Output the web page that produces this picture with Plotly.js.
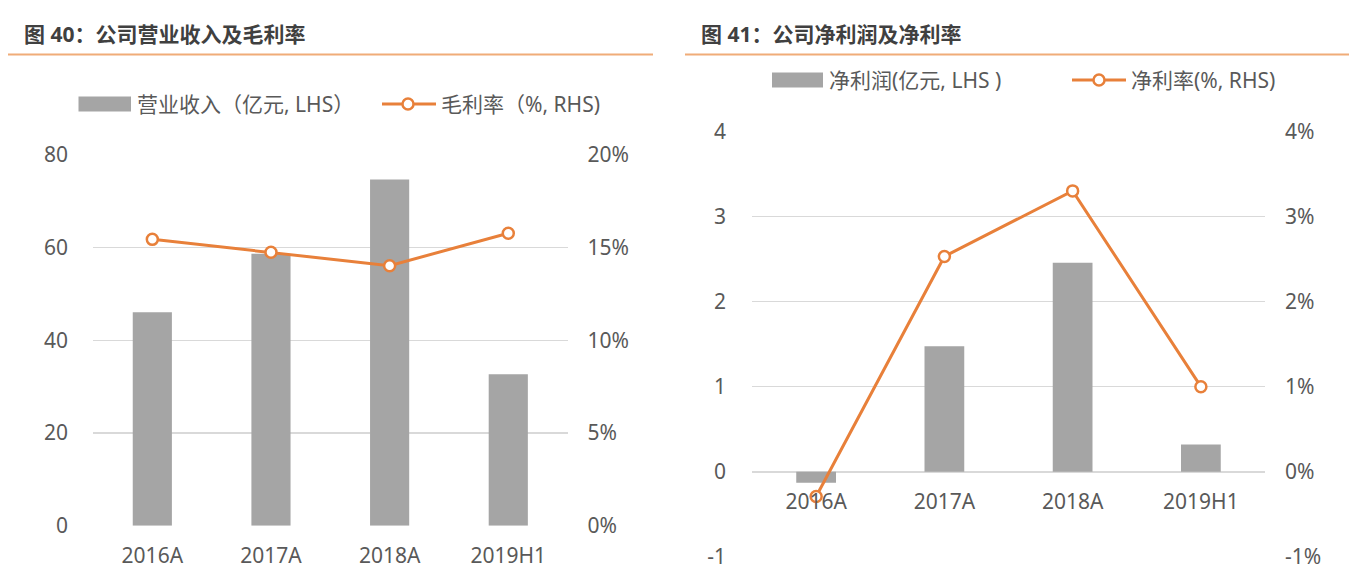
<!DOCTYPE html>
<html>
<head>
<meta charset="utf-8">
<script src="https://cdn.plot.ly/plotly-3.0.1.min.js"></script>
<style>
  html, body { margin: 0; padding: 0; background: #ffffff; }
  #chart { width: 1362px; height: 586px; }
</style>
</head>
<body>
<div id="chart"></div>
<script>
// ---------------- data ----------------
const categories = ['2016A', '2017A', '2018A', '2019H1'];

// 图 40
const revenue = [46.1, 58.7, 74.7, 32.7];            // 营业收入（亿元）
const grossMargin = [0.1545, 0.1475, 0.1403, 0.1578]; // 毛利率

// 图 41
const netProfit = [-0.13, 1.475, 2.457, 0.32];        // 净利润（亿元）
const netMargin = [-0.0029, 0.0253, 0.0330, 0.0100];  // 净利率

const revTickVals = [0, 20, 40, 60, 80];
const revTickText = ['0', '20', '40', '60', '80'];
const gmTickVals = [0, 0.05, 0.10, 0.15, 0.20];
const gmTickText = ['0%', '5%', '10%', '15%', '20%'];
const npTickVals = [-1, 0, 1, 2, 3, 4];
const npTickText = ['-1', '0', '1', '2', '3', '4'];
const nmTickVals = [-0.01, 0, 0.01, 0.02, 0.03, 0.04];
const nmTickText = ['-1%', '0%', '1%', '2%', '3%', '4%'];

const chartTitles = ['图 40：公司营业收入及毛利率', '图 41：公司净利润及净利率'];
const legendNames = ['营业收入（亿元, LHS）', '毛利率（%, RHS)', '净利润(亿元, LHS )', '净利率(%, RHS)'];

// ---------------- styling ----------------
const W = 1362, H = 586;
const X = px => px / W;
const Y = py => 1 - py / H;

const FONT = '"Noto Sans", "Noto Sans CJK SC", sans-serif';
const TXT = '#595959';
const GRID = '#D9D9D9';
const BAR = '#A5A5A5';
const ORANGE = '#E8803A';
const RULE = '#F0AC78';
const tickFont = { family: FONT, size: 21, color: TXT };

const traces = [
  { type: 'bar', x: categories, y: revenue, xaxis: 'x', yaxis: 'y',
    marker: { color: BAR }, width: 0.33, hoverinfo: 'skip', showlegend: false },
  { type: 'scatter', mode: 'lines+markers', x: categories, y: grossMargin, xaxis: 'x', yaxis: 'y2',
    line: { color: ORANGE, width: 3 },
    marker: { symbol: 'circle', size: 11, color: '#ffffff', line: { color: ORANGE, width: 2.5 } },
    hoverinfo: 'skip', showlegend: false, cliponaxis: false },
  { type: 'bar', x: categories, y: netProfit, xaxis: 'x2', yaxis: 'y3',
    marker: { color: BAR }, width: 0.31, hoverinfo: 'skip', showlegend: false },
  { type: 'scatter', mode: 'lines+markers', x: categories, y: netMargin, xaxis: 'x2', yaxis: 'y4',
    line: { color: ORANGE, width: 3 },
    marker: { symbol: 'circle', size: 11, color: '#ffffff', line: { color: ORANGE, width: 2.5 } },
    hoverinfo: 'skip', showlegend: false, cliponaxis: false }
];

const baseX = { type: 'category', showgrid: false, showline: false, zeroline: false, ticks: '',
  tickfont: tickFont, fixedrange: true, automargin: false, ticklabelstandoff: 15 };
const baseY = { showline: false, zeroline: false, ticks: '', tickfont: tickFont, fixedrange: true,
  automargin: false, tickmode: 'array' };

const leftYDom = [Y(525.8), Y(155)];
const rightYDom = [Y(556.9), Y(131.3)];

const layout = {
  width: W, height: H,
  margin: { l: 0, r: 0, t: 0, b: 0, pad: 0 },
  paper_bgcolor: '#ffffff', plot_bgcolor: 'rgba(0,0,0,0)',
  showlegend: false,
  font: { family: FONT, color: TXT },
  xaxis: Object.assign({}, baseX, { domain: [X(93), X(567.6)], anchor: 'y' }),
  yaxis: Object.assign({}, baseY, { domain: leftYDom, anchor: 'x', range: [0, 80],
    tickvals: revTickVals, ticktext: revTickText, showgrid: true, gridcolor: GRID, gridwidth: 1.5,
    ticklabelstandoff: 24 }),
  yaxis2: Object.assign({}, baseY, { overlaying: 'y', side: 'right', anchor: 'x', range: [0, 0.2],
    tickvals: gmTickVals, ticktext: gmTickText, showgrid: false, ticklabelstandoff: 19 }),
  xaxis2: Object.assign({}, baseX, { domain: [X(752), X(1265)], anchor: 'free', position: Y(471.8) }),
  yaxis3: Object.assign({}, baseY, { domain: rightYDom, anchor: 'x2', range: [-1, 4],
    tickvals: npTickVals, ticktext: npTickText, showgrid: true, gridcolor: GRID, gridwidth: 1.5,
    ticklabelstandoff: 25 }),
  yaxis4: Object.assign({}, baseY, { overlaying: 'y3', side: 'right', anchor: 'x2', range: [-0.01, 0.04],
    tickvals: nmTickVals, ticktext: nmTickText, showgrid: false, ticklabelstandoff: 19 }),
  shapes: [
    // title rules
    { type: 'line', xref: 'paper', yref: 'paper', x0: X(8), x1: X(653), y0: Y(54.5), y1: Y(54.5),
      line: { color: RULE, width: 2 } },
    { type: 'line', xref: 'paper', yref: 'paper', x0: X(685), x1: X(1349), y0: Y(54.5), y1: Y(54.5),
      line: { color: RULE, width: 2 } },
    // legend 1
    { type: 'rect', xref: 'paper', yref: 'paper', x0: X(78.5), x1: X(131), y0: Y(96.5), y1: Y(111.5),
      fillcolor: BAR, line: { width: 0 } },
    { type: 'line', xref: 'paper', yref: 'paper', x0: X(382), x1: X(436), y0: Y(104), y1: Y(104),
      line: { color: ORANGE, width: 3 } },
    { type: 'circle', xref: 'paper', yref: 'paper', x0: X(402.5), x1: X(413.5), y0: Y(98.5), y1: Y(109.5),
      fillcolor: '#ffffff', line: { color: ORANGE, width: 2.5 } },
    // legend 2
    { type: 'rect', xref: 'paper', yref: 'paper', x0: X(772), x1: X(823), y0: Y(72.5), y1: Y(87.5),
      fillcolor: BAR, line: { width: 0 } },
    { type: 'line', xref: 'paper', yref: 'paper', x0: X(1072), x1: X(1126), y0: Y(80), y1: Y(80),
      line: { color: ORANGE, width: 3 } },
    { type: 'circle', xref: 'paper', yref: 'paper', x0: X(1093.5), x1: X(1104.5), y0: Y(74.5), y1: Y(85.5),
      fillcolor: '#ffffff', line: { color: ORANGE, width: 2.5 } }
  ],
  annotations: [
    { xref: 'paper', yref: 'paper', x: X(22), y: Y(34), xanchor: 'left', yanchor: 'middle', showarrow: false,
      text: '<b>' + chartTitles[0] + '</b>', font: { family: FONT, size: 21, color: '#404040' } },
    { xref: 'paper', yref: 'paper', x: X(699), y: Y(34), xanchor: 'left', yanchor: 'middle', showarrow: false,
      text: '<b>' + chartTitles[1] + '</b>', font: { family: FONT, size: 21, color: '#404040' } },
    { xref: 'paper', yref: 'paper', x: X(135), y: Y(104), xanchor: 'left', yanchor: 'middle', showarrow: false,
      text: legendNames[0], font: { family: FONT, size: 21, color: TXT } },
    { xref: 'paper', yref: 'paper', x: X(439), y: Y(104), xanchor: 'left', yanchor: 'middle', showarrow: false,
      text: legendNames[1], font: { family: FONT, size: 21, color: TXT } },
    { xref: 'paper', yref: 'paper', x: X(827), y: Y(80), xanchor: 'left', yanchor: 'middle', showarrow: false,
      text: legendNames[2], font: { family: FONT, size: 21, color: TXT } },
    { xref: 'paper', yref: 'paper', x: X(1129), y: Y(80), xanchor: 'left', yanchor: 'middle', showarrow: false,
      text: legendNames[3], font: { family: FONT, size: 21, color: TXT } }
  ]
};

Plotly.newPlot('chart', traces, layout, { staticPlot: true, displayModeBar: false });
</script>
</body>
</html>
